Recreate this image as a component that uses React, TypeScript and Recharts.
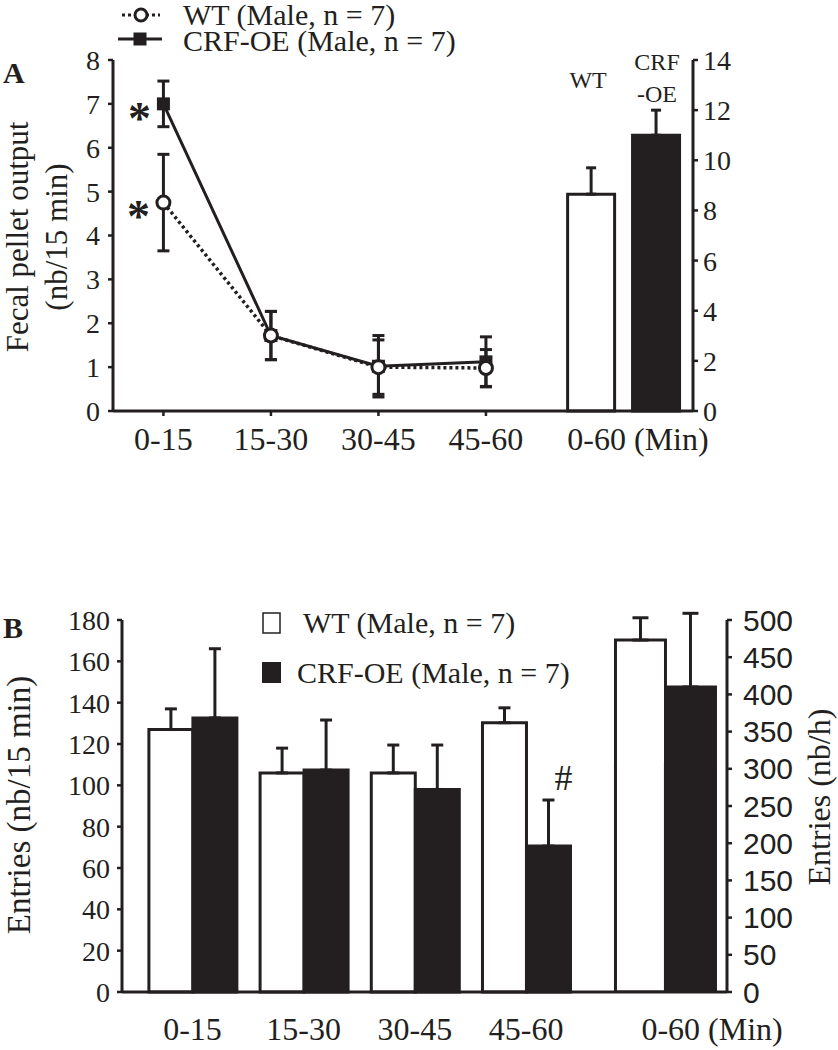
import React from "react";
import { ComposedChart, Line, Bar, XAxis, YAxis, ErrorBar, Legend, Cell } from "recharts";

const INK = "#231f20";
const SERIF = "'Liberation Serif', 'Times New Roman', Times, serif";
const SANS = "'Liberation Sans', Arial, Helvetica, sans-serif";

// ---------- shared labels ----------
const periods = ["0-15", "15-30", "30-45", "45-60"];
const totalPeriod = "0-60 (Min)";
const wtName = "WT (Male, n = 7)";
const crfName = "CRF-OE (Male, n = 7)";

// ---------- panel A : fecal pellet output ----------
const pelletWT = [4.75, 1.72, 1.0, 0.98];
const pelletWTSem = [1.1, 0.55, 0.62, 0.42];
const pelletCRF = [7.0, 1.72, 1.02, 1.12];
const pelletCRFSem = [0.52, 0.55, 0.7, 0.57];
const pelletSigWT = ["*", "", "", ""];
const pelletSigCRF = ["*", "", "", ""];
const pelletTotalGroups = ["WT", "CRF"];
const pelletTotals = [8.65, 11.0];
const pelletTotalsSem = [1.05, 1.0];
const pelletTotalLabels = [["WT"], ["CRF", "-OE"]];
const pelletTicksLeft = [0, 1, 2, 3, 4, 5, 6, 7, 8];
const pelletTicksRight = [0, 2, 4, 6, 8, 10, 12, 14];
const pelletTitle = ["Fecal pellet output", "(nb/15 min)"];

// ---------- panel B : entries ----------
const entriesWT = [127, 106, 106, 130.3];
const entriesWTSem = [10, 12, 13.5, 7.2];
const entriesCRF = [132.6, 107.4, 98, 70.6];
const entriesCRFSem = [33.5, 24.2, 21.5, 22.3];
const entriesSigCRF = ["", "", "", "#"];
const entriesTotalWT = 473;
const entriesTotalWTSem = 30;
const entriesTotalCRF = 410;
const entriesTotalCRFSem = 99;
const entriesTicksLeft = [0, 20, 40, 60, 80, 100, 120, 140, 160, 180];
const entriesTicksRight = [0, 50, 100, 150, 200, 250, 300, 350, 400, 450, 500];
const entriesTitleLeft = "Entries (nb/15 min)";
const entriesTitleRight = "Entries (nb/h)";

// ---------- layout constants ----------
const A_TOTAL_X = 5.284;
const A_TOTAL_BAR_X = [4.978, 5.582];
const A_DOMAIN: [number, number] = [0.531, 5.926];
const B_TOTAL_X = 5.25;
const B_DOMAIN: [number, number] = [0.366, 5.807];

const ticksA = [...periods.map((_, i) => i + 1), A_TOTAL_X];
const ticksB = [...periods.map((_, i) => i + 1), B_TOTAL_X];
const xLabels = [...periods, totalPeriod];

const dataA: any[] = [
  ...periods.map((p, i) => ({
    x: i + 1,
    period: p,
    wt: pelletWT[i],
    wtErr: pelletWTSem[i],
    crf: pelletCRF[i],
    crfErr: pelletCRFSem[i],
  })),
  ...pelletTotalGroups.map((g, k) => ({
    x: A_TOTAL_BAR_X[k],
    period: totalPeriod,
    group: g,
    tot: pelletTotals[k],
    totErr: [0, pelletTotalsSem[k]],
  })),
];

const dataB: any[] = [
  ...periods.map((p, i) => ({
    x: i + 1,
    period: p,
    wt: entriesWT[i],
    wtErr: [0, entriesWTSem[i]],
    crf: entriesCRF[i],
    crfErr: [0, entriesCRFSem[i]],
  })),
  {
    x: B_TOTAL_X,
    period: totalPeriod,
    wtTot: entriesTotalWT,
    wtTotErr: [0, entriesTotalWTSem],
    crfTot: entriesTotalCRF,
    crfTotErr: [0, entriesTotalCRFSem],
  },
];

// ---------- renderers ----------
const makeXTick = (ticks: number[], totalShift: number, baseline: number, marks: boolean) => (props: any) => {
  const { x, y, payload } = props;
  const i = ticks.indexOf(payload.value);
  const isTotal = i === ticks.length - 1;
  return (
    <g key={`tick-${i}`}>
      {marks && !isTotal && <line x1={x} y1={y} x2={x} y2={y + 5} stroke={INK} strokeWidth={2.5} />}
      <text x={x + (isTotal ? totalShift : 0)} y={y + baseline} textAnchor="middle" fontSize={32} fontFamily={SERIF} fill={INK}>
        {xLabels[i]}
      </text>
    </g>
  );
};

const SquareDot = (props: any) => {
  const { cx, cy, index } = props;
  if (cx == null || cy == null || Number.isNaN(cx) || Number.isNaN(cy)) return <g key={`sq-${index}`} />;
  return <rect key={`sq-${index}`} x={cx - 6.5} y={cy - 6.5} width={13} height={13} fill={INK} />;
};

const CircleDot = (props: any) => {
  const { cx, cy, index } = props;
  if (cx == null || cy == null || Number.isNaN(cx) || Number.isNaN(cy)) return <g key={`ci-${index}`} />;
  return <circle key={`ci-${index}`} cx={cx} cy={cy} r={6.5} fill="#fff" stroke={INK} strokeWidth={3} />;
};

const makeSigLabel = (marks: string[], dx: number, dy: number, size: number) => (props: any) => {
  const { x, y, index } = props;
  const m = marks[index];
  if (!m || x == null || y == null) return <g key={`sig-${index}`} />;
  return (
    <text key={`sig-${index}`} x={x + dx} y={y + dy} textAnchor="middle" fontSize={size} fontWeight="bold" fontFamily={SERIF} fill={INK}>
      {m}
    </text>
  );
};

const makeBarSig = (marks: string[], dx: number, dy: number) => (props: any) => {
  const { x, y, width, index, value } = props;
  const m = marks[index];
  if (!m || value == null) return <g key={`bsig-${index}`} />;
  return (
    <text key={`bsig-${index}`} x={x + width / 2 + dx} y={y + dy} textAnchor="middle" fontSize={36} fontFamily={SERIF} fill={INK}>
      {m}
    </text>
  );
};

const TotalTopLabel = (props: any) => {
  const { x, width, value, index } = props;
  const v = Array.isArray(value) ? value[1] : value;
  if (v == null || x == null) return <g key={`tl-${index}`} />;
  const k = pelletTotals.indexOf(Number(v));
  if (k < 0) return <g key={`tl-${index}`} />;
  const lines: string[] = pelletTotalLabels[k];
  const first = lines.length > 1 ? 70 : 88;
  const dx = lines.length > 1 ? 1 : -3;
  return (
    <g key={`tl-${index}`}>
      {lines.map((t, j) => (
        <text key={j} x={x + width / 2 + dx} y={first + j * 32} textAnchor="middle" fontSize={24} fontFamily={SERIF} fill={INK}>
          {t}
        </text>
      ))}
    </g>
  );
};

const YTitleA = () => (
  <g>
    <text x={3} y={83} fontSize={30} fontWeight="bold" fontFamily={SERIF} fill={INK}>A</text>
    <text transform="translate(28,237) rotate(-90)" textAnchor="middle" fontSize={31} fontFamily={SERIF} fill={INK}>
      {pelletTitle[0]}
    </text>
    <text transform="translate(67,237) rotate(-90)" textAnchor="middle" fontSize={31} fontFamily={SERIF} fill={INK}>
      {pelletTitle[1]}
    </text>
  </g>
);

const YTitleBLeft = () => (
  <g>
    <text x={3} y={178} fontSize={30} fontWeight="bold" fontFamily={SERIF} fill={INK}>B</text>
    <text transform="translate(30,345) rotate(-90)" textAnchor="middle" fontSize={33} fontFamily={SERIF} fill={INK}>
      {entriesTitleLeft}
    </text>
  </g>
);

const YTitleBRight = () => (
  <text transform="translate(830,337) rotate(-90)" textAnchor="middle" fontSize={32} fontFamily={SERIF} fill={INK}>
    {entriesTitleRight}
  </text>
);

const LegendA = () => (
  <svg width={430} height={56} style={{ display: "block", overflow: "visible" }}>
    <line x1={12} y1={15} x2={50} y2={15} stroke={INK} strokeWidth={3} strokeDasharray="3 3" />
    <circle cx={31} cy={15} r={6} fill="#fff" stroke={INK} strokeWidth={3} />
    <text x={73} y={25} fontSize={30} fontFamily={SERIF} fill={INK}>{wtName}</text>
    <line x1={8} y1={39} x2={52} y2={39} stroke={INK} strokeWidth={3} />
    <rect x={23.5} y={32.5} width={13} height={13} fill={INK} />
    <text x={73} y={51} fontSize={30} fontFamily={SERIF} fill={INK}>{crfName}</text>
  </svg>
);

const LegendB = () => (
  <svg width={380} height={80} style={{ display: "block", overflow: "visible" }}>
    <rect x={8} y={5} width={17} height={20} fill="#fff" stroke={INK} strokeWidth={1.5} />
    <text x={48} y={25} fontSize={30} fontFamily={SERIF} fill={INK}>{wtName}</text>
    <rect x={7} y={54} width={19} height={21} fill={INK} />
    <text x={42} y={75} fontSize={30} fontFamily={SERIF} fill={INK}>{crfName}</text>
  </svg>
);

const axisStyle = { stroke: INK, strokeWidth: 3 };
const tickLineStyle = { stroke: INK, strokeWidth: 2.5 };
const serifTick = { fontSize: 28, fill: INK, fontFamily: SERIF };
const sansTick = { fontSize: 30, fill: INK, fontFamily: SANS };

export default function App() {
  return (
    <div style={{ width: 838, height: 1050, background: "#fff" }}>
      <div style={{ position: "absolute", left: 0, top: 0 }}>
        <ComposedChart width={838} height={460} data={dataA} margin={{ top: 60, right: 85, bottom: 9, left: 0 }}>
          <XAxis
            xAxisId="x"
            dataKey="x"
            type="number"
            domain={A_DOMAIN}
            ticks={ticksA}
            interval={0}
            height={40}
            axisLine={axisStyle}
            tickLine={false}
            tickSize={0}
            tickMargin={0}
            tick={makeXTick(ticksA, 14, 39, true)}
          />
          <YAxis
            yAxisId="left"
            domain={[0, 8]}
            ticks={pelletTicksLeft}
            interval={0}
            width={113}
            axisLine={axisStyle}
            tickLine={tickLineStyle}
            tickSize={5}
            tickMargin={8}
            tick={serifTick}
            label={YTitleA}
          />
          <YAxis
            yAxisId="right"
            orientation="right"
            domain={[0, 14]}
            ticks={pelletTicksRight}
            interval={0}
            width={60}
            axisLine={axisStyle}
            tickLine={tickLineStyle}
            tickSize={5}
            tickMargin={5}
            tick={serifTick}
          />
          <Bar xAxisId="x" yAxisId="right" dataKey="tot" barSize={47} stroke={INK} strokeWidth={3} isAnimationActive={false} label={TotalTopLabel}>
            {dataA.map((r, i) => (
              <Cell key={`c-${i}`} fill={r.group === "CRF" ? INK : "#fff"} />
            ))}
            <ErrorBar dataKey="totErr" width={5} stroke={INK} strokeWidth={3} direction="y" />
          </Bar>
          <Line xAxisId="x" yAxisId="left" dataKey="crf" name={crfName} stroke={INK} strokeWidth={3} dot={SquareDot} activeDot={false} isAnimationActive={false} label={makeSigLabel(pelletSigCRF, -24, 30, 46)}>
            <ErrorBar dataKey="crfErr" width={6} stroke={INK} strokeWidth={3} direction="y" />
          </Line>
          <Line xAxisId="x" yAxisId="left" dataKey="wt" name={wtName} stroke={INK} strokeWidth={3.5} strokeDasharray="3 3" dot={CircleDot} activeDot={false} isAnimationActive={false} label={makeSigLabel(pelletSigWT, -25, 29, 46)}>
            <ErrorBar dataKey="wtErr" width={6} stroke={INK} strokeWidth={3} direction="y" />
          </Line>
          <Legend content={LegendA} layout="horizontal" verticalAlign="middle" align="center" wrapperStyle={{ left: 110, top: 0, width: 430, height: 56 }} />
        </ComposedChart>
      </div>
      <div style={{ position: "absolute", left: 0, top: 460 }}>
        <ComposedChart width={838} height={590} data={dataB} margin={{ top: 160, right: 41, bottom: 8, left: 0 }} barGap={0}>
          <XAxis
            xAxisId="x"
            dataKey="x"
            type="number"
            domain={B_DOMAIN}
            ticks={ticksB}
            interval={0}
            height={50}
            axisLine={axisStyle}
            tickLine={false}
            tickSize={0}
            tickMargin={0}
            tick={makeXTick(ticksB, 47, 48, false)}
          />
          <XAxis xAxisId="tot" dataKey="x" type="number" domain={B_DOMAIN} ticks={ticksB} interval={0} height={0} hide />
          <YAxis
            yAxisId="left"
            domain={[0, 180]}
            ticks={entriesTicksLeft}
            interval={0}
            width={122}
            axisLine={axisStyle}
            tickLine={tickLineStyle}
            tickSize={5}
            tickMargin={7}
            tick={serifTick}
            label={YTitleBLeft}
          />
          <YAxis
            yAxisId="right"
            orientation="right"
            domain={[0, 500]}
            allowDataOverflow
            ticks={entriesTicksRight}
            interval={0}
            width={70}
            axisLine={axisStyle}
            tickLine={tickLineStyle}
            tickSize={5}
            tickMargin={11}
            tick={sansTick}
            label={YTitleBRight}
          />
          <Bar xAxisId="x" yAxisId="left" dataKey="wt" name={wtName} barSize={44} fill="#fff" stroke={INK} strokeWidth={3} isAnimationActive={false}>
            <ErrorBar dataKey="wtErr" width={6} stroke={INK} strokeWidth={3} direction="y" />
          </Bar>
          <Bar xAxisId="x" yAxisId="left" dataKey="crf" name={crfName} barSize={44} fill={INK} stroke={INK} strokeWidth={3} isAnimationActive={false} label={makeBarSig(entriesSigCRF, 15, -56)}>
            <ErrorBar dataKey="crfErr" width={6} stroke={INK} strokeWidth={3} direction="y" />
          </Bar>
          <Bar xAxisId="tot" yAxisId="right" dataKey="wtTot" barSize={50} fill="#fff" stroke={INK} strokeWidth={3} isAnimationActive={false}>
            <ErrorBar dataKey="wtTotErr" width={8} stroke={INK} strokeWidth={3} direction="y" />
          </Bar>
          <Bar xAxisId="tot" yAxisId="right" dataKey="crfTot" barSize={50} fill={INK} stroke={INK} strokeWidth={3} isAnimationActive={false}>
            <ErrorBar dataKey="crfTotErr" width={8} stroke={INK} strokeWidth={3} direction="y" />
          </Bar>
          <Legend content={LegendB} layout="horizontal" verticalAlign="middle" align="center" wrapperStyle={{ left: 255, top: 148, width: 380, height: 80 }} />
        </ComposedChart>
      </div>
    </div>
  );
}
